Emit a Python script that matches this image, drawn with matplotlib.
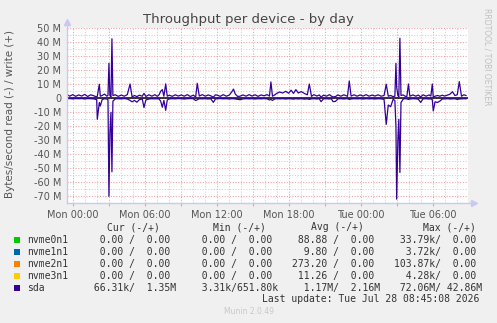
import matplotlib
matplotlib.use("Agg")
import matplotlib.pyplot as plt
from matplotlib.ticker import FuncFormatter, MultipleLocator
import numpy as np

# sda throughput, hours since Mon 00:00, values in MB/s (read drawn negative)
hours = [-0.45, -0.25, 0.0, 0.25, 0.5, 0.75, 1.0, 1.25, 1.5, 1.75, 2.0, 2.05, 2.22, 2.3, 2.45,
         2.65, 2.85, 2.94, 3.02, 3.10, 3.19, 3.27, 3.35, 3.55, 3.8, 4.05, 4.3, 4.55, 4.78, 4.95,
         5.15, 5.35, 5.55, 5.8, 5.94, 6.1, 6.35, 6.6, 6.85, 7.05, 7.2, 7.33, 7.47, 7.6, 7.75,
         7.88, 8.05, 8.3, 8.55, 8.8, 9.05, 9.3, 9.55, 9.8, 10.05, 10.25, 10.38, 10.55, 10.8, 11.05,
         11.3, 11.5, 11.72, 11.9, 12.05, 12.3, 12.55, 12.8, 13.05, 13.25, 13.4, 13.55, 13.75, 13.95, 14.2,
         14.45, 14.7, 14.95, 15.2, 15.45, 15.7, 15.95, 16.2, 16.4, 16.52, 16.65, 16.85, 17.0, 17.25, 17.5,
         17.75, 18.0, 18.2, 18.4, 18.6, 18.8, 19.05, 19.3, 19.55, 19.72, 19.9, 20.1, 20.35, 20.55, 20.7,
         20.9, 21.15, 21.4, 21.55, 21.7, 21.9, 22.1, 22.35, 22.6, 22.8, 22.9, 23.05, 23.2, 23.45, 23.7,
         23.95, 24.2, 24.45, 24.7, 24.95, 25.2, 25.45, 25.7, 25.95, 26.13, 26.3, 26.5, 26.7, 26.85, 26.94,
         27.0, 27.1, 27.18, 27.27, 27.36, 27.55, 27.7, 27.85, 27.98, 28.1, 28.35, 28.6, 28.8, 29.0, 29.2,
         29.45, 29.7, 29.85, 29.97, 30.05, 30.2, 30.4, 30.6, 30.8, 31.0, 31.25, 31.45, 31.65, 31.85, 32.05,
         32.22, 32.4, 32.6, 32.78]
sda_write = [2.5, 1.5, 2.6, 1.4, 2.4, 1.6, 2.8, 1.3, 2.5, 1.8, 1.0, 1.5, 10.0, 1.5, 2.0,
             3.0, 1.5, 2.0, 25.0, 2.0, 1.0, 42.5, 2.0, 2.5, 1.4, 2.3, 1.5, 2.6, 10.2, 1.0,
             2.0, 1.2, 2.2, 1.5, 3.5, 1.3, 2.5, 1.5, 2.6, 1.4, 2.5, 5.0, 6.2, 1.5, 10.3,
             1.5, 2.2, 1.4, 2.5, 1.6, 2.4, 1.5, 2.6, 1.3, 2.2, 1.0, 10.7, 1.6, 2.6, 1.5,
             2.4, 1.8, 0.8, 2.5, 2.2, 1.4, 2.6, 1.5, 2.3, 4.5, 6.6, 3.0, 1.3, 1.5, 2.4,
             1.5, 2.6, 1.6, 2.5, 1.4, 2.4, 1.8, 2.6, 1.6, 11.7, 1.5, 2.5, 3.5, 4.5, 3.8,
             5.0, 3.6, 5.8, 3.5, 6.2, 3.8, 4.8, 3.5, 2.5, 10.2, 1.4, 2.6, 1.6, 2.4, 0.8,
             2.3, 1.5, 2.6, 1.6, 1.0, 1.2, 2.4, 1.5, 2.5, 1.8, 1.4, 12.4, 1.6, 2.5, 1.5,
             2.4, 1.6, 2.6, 1.5, 2.3, 1.6, 2.5, 1.5, 2.0, 10.0, 1.5, 2.0, 1.2, 1.5, 25.0,
             8.0, 2.0, 1.0, 42.9, 2.0, 2.4, 1.5, 1.3, 10.2, 1.5, 2.4, 1.5, 2.3, 1.0, 2.5,
             1.5, 2.4, 1.6, 10.2, 1.0, 1.5, 2.0, 1.5, 2.2, 1.6, 2.3, 3.0, 4.7, 2.0, 2.5,
             11.9, 1.5, 2.5, 2.0]
sda_read = [0.3, 0.2, 0.4, 0.2, 0.3, 0.2, 0.5, 0.2, 0.3, 0.4, 1.0, 15.0, 3.0, 5.5, 1.0,
            0.3, 0.5, 1.0, 70.0, 25.0, 10.0, 52.5, 2.0, 0.4, 0.3, 0.4, 0.2, 0.5, 1.5, 2.5,
            1.5, 2.8, 1.0, 0.5, 6.6, 1.2, 0.5, 0.3, 0.4, 0.3, 0.5, 2.0, 6.4, 1.5, 8.6,
            1.2, 0.4, 0.3, 0.4, 0.2, 0.3, 0.5, 0.3, 0.2, 0.3, 1.6, 1.0, 0.3, 0.4, 0.3,
            0.5, 0.3, 2.9, 0.4, 0.3, 0.2, 0.4, 0.3, 0.5, 0.3, 0.3, 0.5, 0.8, 1.0, 0.4,
            0.3, 0.4, 0.3, 0.5, 0.3, 0.4, 0.2, 0.4, 1.2, 0.8, 1.5, 0.4, 0.3, 0.4, 0.3,
            0.5, 0.3, 0.4, 0.6, 0.3, 0.5, 0.3, 0.6, 0.4, 0.8, 0.4, 0.3, 0.5, 0.3, 2.4,
            0.4, 0.3, 0.5, 0.3, 2.4, 2.2, 0.4, 0.3, 0.5, 0.3, 0.3, 0.8, 0.5, 0.3, 0.4,
            0.3, 0.5, 0.3, 0.4, 0.3, 0.5, 0.3, 0.4, 0.8, 18.6, 4.8, 6.0, 0.8, 1.5, 20.0,
            72.0, 30.0, 15.0, 53.0, 3.0, 0.5, 0.3, 0.4, 0.8, 0.5, 0.3, 0.4, 0.6, 2.9, 0.4,
            0.3, 0.5, 0.4, 1.0, 9.0, 2.5, 3.0, 2.0, 0.5, 0.4, 0.3, 0.5, 0.4, 0.3, 0.8,
            0.5, 0.4, 0.3, 0.4]

devices = ["nvme0n1", "nvme1n1", "nvme2n1", "nvme3n1", "sda"]
dev_colors = ["#00CC00", "#0066B3", "#FF8000", "#FFCC00", "#330099"]
cur_vals = ["  0.00 /  0.00 ", "  0.00 /  0.00 ", "  0.00 /  0.00 ", "  0.00 /  0.00 ", " 66.31k/  1.35M"]
min_vals = ["  0.00 /  0.00 ", "  0.00 /  0.00 ", "  0.00 /  0.00 ", "  0.00 /  0.00 ", "  3.31k/651.80k"]
avg_vals = [" 88.88 /  0.00 ", "  9.80 /  0.00 ", "273.20 /  0.00 ", " 11.26 /  0.00 ", "  1.17M/  2.16M"]
max_vals = [" 33.79k/  0.00 ", "  3.72k/  0.00 ", "103.87k/  0.00 ", "  4.28k/  0.00 ", " 72.06M/ 42.86M"]
x_labels = ["Mon 00:00", "Mon 06:00", "Mon 12:00", "Mon 18:00", "Tue 00:00", "Tue 06:00"]

W, H = 497, 323
fig = plt.figure(figsize=(W / 100, H / 100), dpi=100, facecolor="#F0F0F0")

def fx(x):
    return x / W

def fy(y):
    return 1 - y / H

ax = fig.add_axes([fx(66.7), fy(203.3), (468.3 - 66.7) / W, (203.3 - 28.3) / H])
ax.set_facecolor("white")

t = np.array(hours)
ax.plot(t, np.array(sda_write) * 1e6, color=dev_colors[-1], lw=0.9, zorder=4)
ax.plot(t, -np.array(sda_read) * 1e6, color=dev_colors[-1], lw=0.9, zorder=4)
ax.axhline(0, color="black", lw=1.1, zorder=3)

ax.set_xlim(-0.5, 32.97)
ax.set_ylim(-75e6, 50e6)

ax.yaxis.set_major_locator(MultipleLocator(10e6))
ax.yaxis.set_minor_locator(MultipleLocator(5e6))
ax.xaxis.set_major_locator(MultipleLocator(3))
ax.xaxis.set_minor_locator(MultipleLocator(1))
ax.yaxis.set_major_formatter(FuncFormatter(lambda v, p: "0" if abs(v) < 1 else f"{v / 1e6:.0f} M"))
ax.xaxis.set_major_formatter(FuncFormatter(
    lambda v, p: x_labels[int(round(v)) // 6] if int(round(v)) % 6 == 0 and 0 <= int(round(v)) // 6 < len(x_labels) else ""))

dots = (0, (1, 1.6))
ax.grid(which="minor", color="#cfcfcf", lw=0.75, ls=dots, zorder=1)
ax.grid(which="major", color="#f0a0a0", lw=0.75, ls=dots, zorder=2)
ax.tick_params(which="both", length=0, labelsize=7, labelcolor="#555555", pad=4)
ax.tick_params(axis="x", which="major", length=2, color="#f0a0a0", pad=3)
for s in ax.spines.values():
    s.set_visible(False)

# axis lines with arrow heads
axis_col = "#c8c8f0"
ax.plot([0, 1.012], [0, 0], transform=ax.transAxes, color=axis_col, lw=1, clip_on=False, zorder=5)
ax.plot([0, 0], [0, 1.03], transform=ax.transAxes, color=axis_col, lw=1, clip_on=False, zorder=5)
ax.plot([1.015], [0], transform=ax.transAxes, marker=">", ms=4, color=axis_col, clip_on=False, zorder=5)
ax.plot([0], [1.035], transform=ax.transAxes, marker="^", ms=4, color=axis_col, clip_on=False, zorder=5)

fig.text(fx(248), fy(19), "Throughput per device - by day", ha="center", va="center",
         fontsize=9.5, color="#444444")
fig.text(fx(10), fy(114), "Bytes/second read (-) / write (+)", rotation=90, ha="center",
         va="center", fontsize=7.5, color="#555555")
fig.text(fx(487.5), fy(57), "RRDTOOL / TOBI OETIKER", rotation=270, ha="center", va="center",
         fontsize=5.5, color="#c0c0c0")

mono = dict(family="DejaVu Sans Mono", fontsize=7, color="#333333", va="center")
fig.text(fx(107.3), fy(227.3), "Cur (-/+)", **mono)
fig.text(fx(213.3), fy(227.3), "Min (-/+)", **mono)
fig.text(fx(310.7), fy(227.3), "Avg (-/+)", **mono)
fig.text(fx(422.7), fy(227.3), "Max (-/+)", **mono)

for i, dev in enumerate(devices):
    y = 240 + i * 12
    fig.patches.append(plt.Rectangle((fx(14), fy(y + 3)), 6 / W, 6 / H, transform=fig.transFigure,
                                     facecolor=dev_colors[i], edgecolor="none"))
    fig.text(fx(26.7), fy(y), dev, **mono)
    fig.text(fx(87.5), fy(y), cur_vals[i], **mono)
    fig.text(fx(189.5), fy(y), min_vals[i], **mono)
    fig.text(fx(292.5), fy(y), avg_vals[i], **mono)
    fig.text(fx(394.5), fy(y), max_vals[i], **mono)

fig.text(fx(261.7), fy(299.5), "Last update: Tue Jul 28 08:45:08 2026", **mono)
fig.text(fx(248.7), fy(312), "Munin 2.0.49", ha="center", va="center", fontsize=5.5, color="#c8c8c8")

fig.savefig("out.png", dpi=100, facecolor=fig.get_facecolor())
